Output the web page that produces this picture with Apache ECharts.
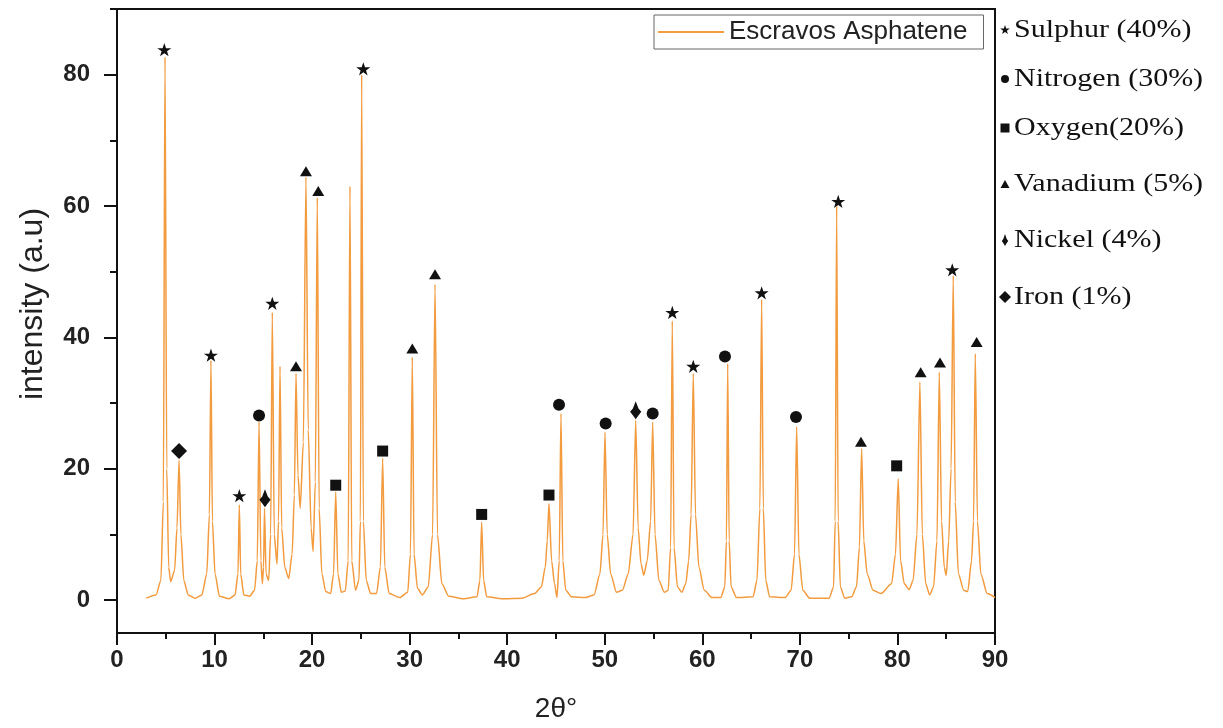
<!DOCTYPE html>
<html>
<head>
<meta charset="utf-8">
<script src="https://cdn.jsdelivr.net/npm/echarts@6/dist/echarts.min.js"></script>
<style>
  html, body { margin: 0; padding: 0; background: #ffffff; }
  #chart { width: 1223px; height: 728px; }
</style>
</head>
<body>
<div id="chart"></div>
<script>
// XRD pattern of Escravos asphaltene: [2θ (deg), intensity (a.u.)]
const pattern = [
  [3.0,0.3],[4.0,0.8],[4.5,3],[4.75,15],[4.92,82.7],[5.1,20],[5.3,5],[5.5,2.8],
  [5.9,4.5],[6.15,11],[6.36,21.3],[6.55,10],[6.85,3],[7.3,0.8],[8.0,0.3],
  [8.7,0.8],[9.2,4],[9.47,13],[9.63,36.5],[9.78,12],[10.05,4],[10.5,0.6],[11.5,0.2],
  [12.1,0.8],[12.4,4],[12.54,14.5],[12.68,4],[13.0,0.8],[13.6,0.6],
  [14.1,1.5],[14.38,6],[14.56,27.1],[14.75,6],[14.9,2.5],[15.02,5],[15.12,14.0],[15.28,4],
  [15.55,3],[15.75,10],[15.92,43.8],[16.12,10],[16.4,5.5],[16.56,12],[16.71,35.6],[16.88,11],
  [17.2,5],[17.6,3.3],[17.95,7],[18.18,16],[18.35,34.5],[18.55,19],[18.78,14],[19.1,24],
  [19.37,64.4],[19.6,26],[19.9,11],[20.1,7.4],[20.33,18],[20.53,61.3],[20.72,14],[21.0,4],
  [21.4,1.3],[21.9,1],
  [22.2,4],[22.42,16.5],[22.64,4],[23.0,1.2],[23.4,1.4],
  [23.7,6],[23.88,63.0],[24.06,6],[24.45,1.5],[24.8,3],[24.95,12],[25.08,80.0],[25.25,12],
  [25.55,3],[26.0,1],[26.6,1],
  [27.0,5],[27.23,21.6],[27.45,5],[27.9,1],[29.0,0.4],
  [29.8,1.2],[30.08,7],[30.27,37.0],[30.45,7],[30.8,1.8],[31.3,0.8],[31.9,2],[32.35,10],
  [32.6,48.1],[32.85,10],[33.3,2.5],[34.0,0.6],[35.5,0.2],
  [36.9,0.5],[37.2,3],[37.38,11.9],[37.58,3],[37.9,0.5],[39.5,0.2],[41.5,0.3],[42.8,1],
  [43.5,2],[43.9,5],[44.1,9],[44.28,14.7],[44.55,6],[44.85,2.5],[45.1,0.4],[45.33,6],
  [45.51,28.4],[45.7,6],[46.0,1.5],[46.6,0.5],[48.0,0.4],
  [48.9,0.8],[49.5,4],[49.82,10],[50.02,25.6],[50.25,10],[50.6,4],[51.2,1.2],[51.8,1.5],
  [52.4,4],[52.9,10],[53.17,27.4],[53.42,11],[53.72,5.5],[54.0,3.8],[54.35,6],[54.7,12],
  [54.91,27.1],[55.15,10],[55.55,3],[56.1,1.2],[56.5,1.5],
  [56.75,8],[56.92,42.5],[57.1,8],[57.45,2],[57.9,1.2],[58.3,2.5],[58.6,6],[58.85,13],
  [59.07,34.5],[59.3,13],[59.65,5],[60.2,1.5],[61.0,0.4],[61.9,0.4],
  [62.3,2],[62.47,9],[62.6,36.0],[62.75,9],[62.95,2],[63.5,0.4],[65.2,0.5],
  [65.6,3],[65.9,14],[66.08,45.8],[66.25,14],[66.5,3],[66.9,0.5],[68.5,0.4],
  [69.1,1.5],[69.45,7],[69.67,26.4],[69.9,7],[70.3,1.5],[71.0,0.3],[73.0,0.3],
  [73.45,2],[73.62,12],[73.77,60.0],[73.92,12],[74.15,2],[74.6,0.3],[75.3,0.5],
  [75.8,2],[76.1,8],[76.33,23.1],[76.55,9],[76.9,4],[77.5,1.5],[78.3,1],
  [79.4,2.5],[79.8,7],[80.08,18.5],[80.32,6],[80.7,2.5],[81.2,1.6],[81.6,3],
  [82.0,10],[82.3,33.2],[82.55,10],[82.9,2.5],[83.3,0.8],[83.7,2],
  [84.05,9],[84.29,34.7],[84.52,12],[84.8,5],[85.0,3.8],[85.25,9],[85.5,20],[85.72,49.4],
  [85.92,15],[86.25,4],[86.8,1.5],[87.2,1.3],
  [87.6,6],[87.8,12],[87.98,37.5],[88.2,12],[88.55,4],[89.2,1],[90.0,0.4]
];

// Peak assignments: [2θ, marker height]
const sulphurPeaks  = [[4.85,83.8],[9.63,37.3],[12.54,15.9],[15.92,45.2],[25.25,80.9],[56.92,43.8],[59.07,35.6],[66.08,46.8],[73.93,60.7],[85.62,50.3]];
const nitrogenPeaks = [[14.56,28.1],[45.31,29.75],[50.09,26.9],[54.91,28.4],[62.32,37.1],[69.6,27.9]];
const oxygenPeaks   = [[22.42,17.5],[27.23,22.7],[37.38,13.05],[44.28,16.0],[79.92,20.45]];
const vanadiumPeaks = [[18.35,35.6],[19.37,65.3],[20.63,62.3],[30.27,38.3],[32.6,49.6],[76.26,24.1],[82.38,34.7],[84.36,36.2],[88.12,39.3]];
const nickelPeaks   = [[15.17,15.5],[53.17,28.9]];
const ironPeaks     = [[6.36,22.7]];

const seriesName = 'Escravos Asphatene';
const elementLabels = ['Sulphur (40%)', 'Nitrogen (30%)', 'Oxygen(20%)', 'Vanadium (5%)', 'Nickel (4%)', 'Iron (1%)'];
const yMajorTicks = [0, 20, 40, 60, 80];
const yMinorTicks = [10, 30, 50, 70, 90];

// Marker outlines on a 100x100 box
const STAR_PTS = [[50,0],[61.8,35.1],[98.1,35.1],[68.8,56.7],[79.4,91],[50,69.6],[20.6,91],[31.2,56.7],[1.9,35.1],[38.2,35.1]];
const NICKEL_PTS = [[50,0],[70,40],[90,58],[68,80],[50,100],[32,80],[10,58],[30,40]];
const toPath = pts => 'path://' + pts.map((p, i) => (i ? 'L' : 'M') + p[0] + ',' + p[1]).join(' ') + ' Z';

const markerSets = [
  { data: sulphurPeaks,  symbol: toPath(STAR_PTS),   pts: STAR_PTS,   size: 14,       key: [10, 10] },
  { data: nitrogenPeaks, symbol: 'circle',           shape: 'circle', size: 12,       key: [8, 8] },
  { data: oxygenPeaks,   symbol: 'rect',             pts: [[0,0],[100,0],[100,100],[0,100]], size: 11, key: [9, 9] },
  { data: vanadiumPeaks, symbol: 'triangle',         pts: [[50,0],[100,100],[0,100]], size: [12, 10], key: [9, 8] },
  { data: nickelPeaks,   symbol: toPath(NICKEL_PTS), pts: NICKEL_PTS, size: [14, 18], key: [8, 12] },
  { data: ironPeaks,     symbol: 'diamond',          pts: [[50,0],[100,50],[50,100],[0,50]], size: 16, key: [12, 12] }
];

const chart = echarts.init(document.getElementById('chart'), null, { renderer: 'canvas' });

const axisBlack = { color: '#111', width: 2 };
const tickFont = { fontFamily: 'Liberation Sans', fontWeight: 'bold', fontSize: 24, color: '#222' };

// Element key on the right of the frame
const keyRowsY = [30, 79, 128, 184, 240, 297];
const keySymbolX = 1005;
const keyTextX = 1014;
const keyGraphics = [];
markerSets.forEach((m, i) => {
  const cy = keyRowsY[i];
  const [w, h] = m.key;
  let el;
  if (m.shape === 'circle') {
    el = { type: 'circle', shape: { cx: keySymbolX, cy: cy, r: w / 2 } };
  } else {
    el = { type: 'polygon', shape: { points: m.pts.map(p => [keySymbolX - w / 2 + p[0] * w / 100, cy - h / 2 + p[1] * h / 100]) } };
  }
  el.style = { fill: '#111' };
  el.silent = true;
  keyGraphics.push(el);
  keyGraphics.push({
    type: 'text', x: keyTextX, y: cy, scaleX: 1.2, silent: true,
    style: { text: elementLabels[i], font: '25px "Liberation Serif"', fill: '#111', verticalAlign: 'middle', align: 'left' }
  });
});

const series = [{
  name: seriesName,
  type: 'line',
  data: pattern,
  symbol: 'none',
  showSymbol: false,
  smooth: 0.25,
  smoothMonotone: 'x',
  lineStyle: { color: '#F29B3F', width: 1.5 },
  itemStyle: { color: '#F29B3F' },
  z: 2
}];
markerSets.forEach((m, i) => {
  series.push({
    name: elementLabels[i],
    type: 'scatter',
    data: m.data,
    symbol: m.symbol,
    symbolSize: m.size,
    symbolKeepAspect: true,
    itemStyle: { color: '#111', opacity: 1 },
    z: 5
  });
});

const option = {
  animation: false,
  backgroundColor: '#ffffff',
  grid: {
    left: 117, right: 228, top: 9, bottom: 92,
    show: true, borderColor: '#111', borderWidth: 2, backgroundColor: 'transparent'
  },
  legend: {
    data: [{ name: seriesName, icon: 'rect' }],
    left: 654, top: 15,
    padding: [3, 16, 3, 4],
    itemWidth: 66, itemHeight: 2,
    borderColor: '#666', borderWidth: 1,
    textStyle: { fontFamily: 'Liberation Sans', fontSize: 26, color: '#222', lineHeight: 28 }
  },
  xAxis: {
    type: 'value', min: 0, max: 90, interval: 10,
    name: '2θ°', nameLocation: 'middle', nameGap: 62,
    nameTextStyle: { fontFamily: 'Liberation Sans', fontSize: 28, color: '#222' },
    axisLine: { show: true, onZero: false, lineStyle: axisBlack },
    axisTick: { show: true, length: 12, lineStyle: axisBlack },
    minorTick: { show: true, splitNumber: 2, length: 6, lineStyle: axisBlack },
    axisLabel: Object.assign({ margin: 15 }, tickFont),
    splitLine: { show: false }
  },
  yAxis: [{
    type: 'value', min: -5, max: 90, position: 'left',
    name: 'intensity (a.u)', nameLocation: 'middle', nameGap: 68,
    nameTextStyle: { fontFamily: 'Liberation Sans', fontSize: 32, color: '#222', padding: [0, 0, 0, 34] },
    axisLine: { show: true, onZero: false, lineStyle: axisBlack },
    axisTick: { show: true, length: 13, lineStyle: axisBlack, customValues: yMajorTicks },
    axisLabel: Object.assign({ margin: 27, customValues: yMajorTicks }, tickFont),
    splitLine: { show: false }
  }, {
    type: 'value', min: -5, max: 90, position: 'left',
    axisLine: { show: false },
    axisTick: { show: true, length: 7, lineStyle: axisBlack, customValues: yMinorTicks },
    axisLabel: { show: false, customValues: yMinorTicks },
    splitLine: { show: false }
  }],
  graphic: keyGraphics,
  series: series
};

chart.setOption(option);
</script>
</body>
</html>
